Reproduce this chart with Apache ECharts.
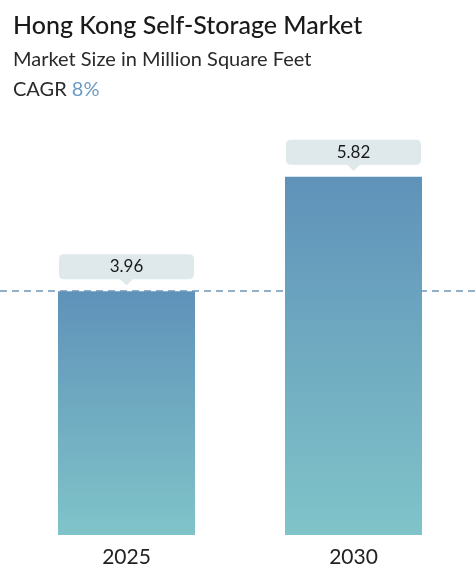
<!DOCTYPE html>
<html>
<head>
<meta charset="utf-8">
<script src="https://cdn.jsdelivr.net/npm/echarts@6/dist/echarts.min.js"></script>
<style>
  html, body { margin: 0; padding: 0; background: #fff; }
  #chart { width: 475px; height: 576px; }
</style>
</head>
<body>
<div id="chart"></div>
<script>
var years = ['2025', '2030'];
var marketSize = [3.96, 5.82];
var cagr = '8%';

// callout box with a little pointer at the bottom
var calloutPath = 'path://M5,0 H130 Q135,0 135,5 V20 Q135,25 130,25 H74 L67.5,31 L61,25 H5 Q0,25 0,20 V5 Q0,0 5,0 Z';

var font = 'Lato, "Open Sans", sans-serif';

var option = {
    animation: false,
    title: [{
        text: 'Hong Kong Self-Storage Market',
        left: 8, top: 8,
        textStyle: { fontFamily: font, fontSize: 25, fontWeight: 500, color: '#1a1a1a' }
    }, {
        text: 'Market Size in Million Square Feet',
        left: 8, top: 45,
        textStyle: { fontFamily: font, fontSize: 20, fontWeight: 'normal', color: '#2a2a2a' }
    }, {
        text: '{a|CAGR }{b|' + cagr + '}',
        left: 8, top: 75,
        textStyle: {
            rich: {
                a: { fontFamily: font, fontSize: 20, fontWeight: 'normal', color: '#2a2a2a' },
                b: { fontFamily: font, fontSize: 20, fontWeight: 'normal', color: '#6b9cc6' }
            }
        }
    }],
    grid: { left: 13, right: 8, top: 104, bottom: 41 },
    xAxis: {
        type: 'category',
        data: years,
        axisLine: { show: false },
        axisTick: { show: false },
        axisLabel: { fontFamily: font, fontSize: 21, color: '#222', margin: 12 }
    },
    yAxis: {
        type: 'value',
        min: 0, max: 7,
        show: false,
        splitLine: { show: false }
    },
    series: [{
        type: 'bar',
        data: marketSize,
        barWidth: 137,
        itemStyle: {
            color: {
                type: 'linear', x: 0, y: 0, x2: 0, y2: 1,
                colorStops: [
                    { offset: 0, color: '#5f92b9' },
                    { offset: 1, color: '#80c4c9' }
                ]
            }
        },
        markPoint: {
            symbol: calloutPath,
            symbolSize: [135, 31],
            symbolOffset: [0, -21.5],
            itemStyle: { color: '#dfe9ec' },
            label: {
                show: true,
                position: 'inside',
                offset: [0, -3],
                fontFamily: font,
                fontSize: 17,
                color: '#1a1a1a',
                formatter: function (p) { return p.value.toFixed(2); }
            },
            data: marketSize.map(function (v, i) {
                return { coord: [years[i], v], value: v };
            })
        },
        markLine: {
            silent: true,
            symbol: 'none',
            lineStyle: { color: '#6f96b8', type: [7, 5], width: 1.5 },
            label: { show: false },
            data: [[
                { yAxis: marketSize[0], x: 0 },
                { yAxis: marketSize[0], x: '100%' }
            ]],
            z: 1
        }
    }]
};

var chart = echarts.init(document.getElementById('chart'));
chart.setOption(option);
</script>
</body>
</html>
